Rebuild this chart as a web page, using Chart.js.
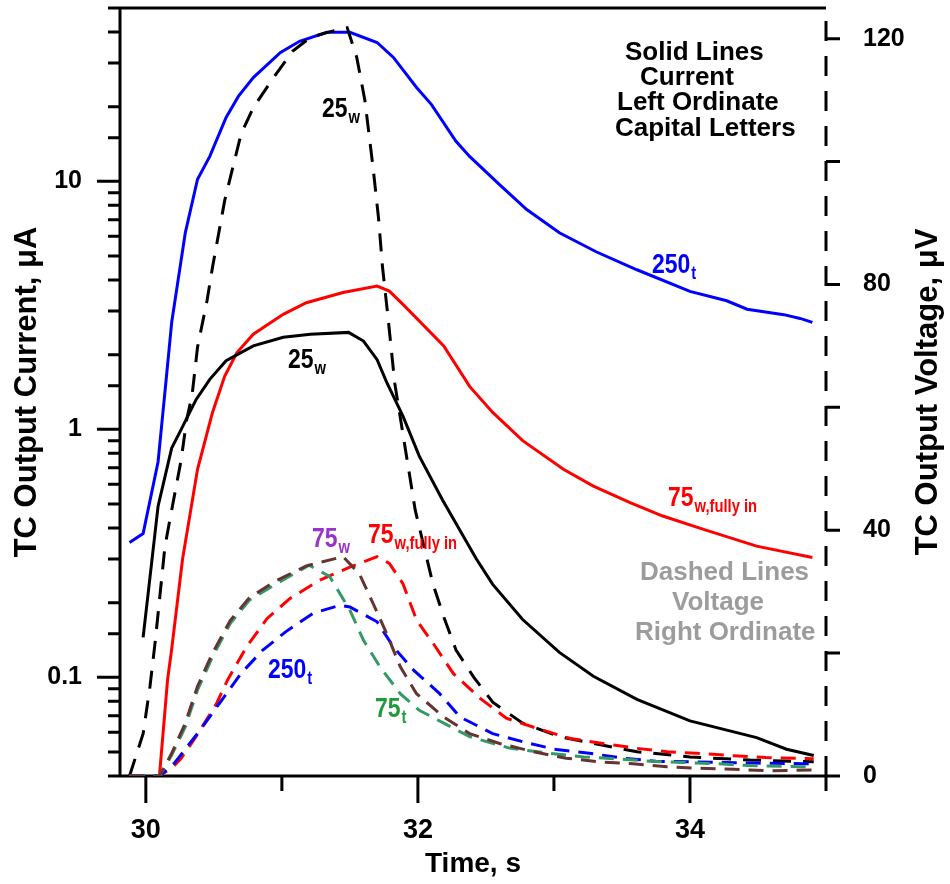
<!DOCTYPE html>
<html>
<head>
<meta charset="utf-8">
<title>TC output current and voltage</title>
<script src="https://cdn.jsdelivr.net/npm/chart.js@4.4.1/dist/chart.umd.min.js"></script>
<style>
  html, body { margin: 0; padding: 0; background: #fff; }
  canvas { display: block; }
</style>
</head>
<body>
<canvas id="tcChart" width="950" height="884"></canvas>
<script>
// ---- axis ticks / labels ----
const xMajor = [30, 32, 34];
const xMinor = [31, 33, 35];
const leftLabels = [0.1, 1, 10];
const rightLabels = [0, 40, 80, 120];
const rightMinor = [20, 60, 100];

// ---- solid lines: current (uA), left ordinate ----
const blueCurT = [29.88, 29.98, 30.09, 30.15, 30.19, 30.29, 30.38, 30.47, 30.59, 30.68, 30.79, 30.99, 31.13, 31.33, 31.50, 31.70, 31.82, 31.99, 32.10, 32.28, 32.38, 32.60, 32.80, 33.04, 33.31, 33.61, 34.00, 34.27, 34.42, 34.69, 34.81, 34.90];
const blueCurI = [0.35, 0.38, 0.74, 1.6, 2.7, 6.2, 10.2, 12.6, 18.1, 22.0, 26.2, 33.1, 36.7, 39.9, 39.9, 36.3, 31.6, 23.9, 20.4, 14.5, 12.6, 9.7, 7.7, 6.2, 5.2, 4.4, 3.6, 3.3, 3.05, 2.9, 2.8, 2.7];

const blackCurT = [29.98, 30.09, 30.19, 30.26, 30.37, 30.47, 30.59, 30.79, 31.01, 31.21, 31.49, 31.60, 31.70, 31.77, 31.89, 32.01, 32.18, 32.43, 32.55, 32.77, 33.04, 33.29, 33.61, 34.00, 34.49, 34.71, 34.91];
const blackCurI = [0.145, 0.49, 0.84, 1.0, 1.32, 1.59, 1.89, 2.17, 2.35, 2.42, 2.46, 2.27, 1.91, 1.55, 1.13, 0.78, 0.52, 0.30, 0.237, 0.171, 0.126, 0.101, 0.0815, 0.0667, 0.0571, 0.0513, 0.0484];

const redCurT = [30.10, 30.16, 30.19, 30.27, 30.38, 30.49, 30.58, 30.67, 30.79, 31.01, 31.18, 31.45, 31.70, 31.79, 31.89, 32.19, 32.38, 32.55, 32.77, 33.07, 33.29, 33.56, 33.80, 34.10, 34.49, 34.90];
const redCurI = [0.04, 0.098, 0.13, 0.30, 0.69, 1.17, 1.64, 2.04, 2.42, 2.91, 3.24, 3.56, 3.78, 3.61, 3.19, 2.17, 1.49, 1.17, 0.90, 0.69, 0.59, 0.506, 0.447, 0.395, 0.338, 0.304];

// ---- dashed lines: voltage (uV), right ordinate ----
const blackVoltT = [29.88, 29.98, 30.03, 30.07, 30.10, 30.14, 30.19, 30.26, 30.30, 30.34, 30.38, 30.45, 30.49, 30.58, 30.64, 30.70, 30.79, 30.94, 31.08, 31.21, 31.33, 31.48, 31.55, 31.61, 31.67, 31.71, 31.74, 31.78, 31.83, 31.98, 32.11, 32.19, 32.28, 32.41, 32.55, 32.77, 33.04, 33.29, 33.61, 34.00, 34.44, 34.91];
const blackVoltV = [0, 6.9, 14.5, 22.1, 28.6, 37.3, 43.3, 51.5, 58.0, 62.0, 69.8, 77.4, 82.8, 93.7, 99.1, 104.5, 108.8, 113.7, 118.0, 120.2, 121.0, 121.8, 117.0, 110.0, 99.1, 90.9, 82.8, 74.7, 63.9, 43.3, 31.3, 25.9, 20.5, 16.1, 12.0, 8.6, 6.4, 5.3, 3.95, 3.1, 2.6, 2.3];

const redVoltT = [29.88, 30.10, 30.20, 30.26, 30.36, 30.52, 30.60, 30.74, 30.89, 31.06, 31.28, 31.50, 31.70, 31.79, 31.89, 31.99, 32.13, 32.26, 32.46, 32.65, 32.87, 33.12, 33.36, 33.61, 33.83, 34.05, 34.32, 34.56, 34.91];
const redVoltV = [0, 0, 1.5, 2.9, 6.1, 11.8, 15.6, 21.0, 25.6, 28.9, 31.9, 34.0, 35.7, 34.6, 31.3, 25.4, 21.0, 16.7, 12.6, 9.4, 7.8, 6.1, 5.3, 4.5, 3.95, 3.7, 3.3, 3.0, 2.8];

const blueVoltT = [29.88, 30.10, 30.21, 30.40, 30.54, 30.70, 30.86, 31.03, 31.23, 31.43, 31.50, 31.70, 31.82, 31.97, 32.16, 32.31, 32.55, 32.80, 33.02, 33.26, 33.51, 33.75, 34.00, 34.25, 34.49, 34.83, 34.91];
const blueVoltV = [0, 0, 2.1, 7.5, 11.8, 16.7, 20.5, 23.5, 26.5, 27.8, 27.5, 25.1, 21.0, 17.2, 13.4, 9.6, 6.9, 5.4, 4.3, 3.7, 2.9, 2.4, 2.3, 2.2, 2.1, 2.0, 2.0];

const greenVoltT = [29.88, 30.10, 30.19, 30.29, 30.38, 30.49, 30.62, 30.76, 30.96, 31.20, 31.35, 31.50, 31.60, 31.72, 31.87, 32.01, 32.19, 32.38, 32.68, 32.97, 33.22, 33.46, 33.71, 33.95, 34.20, 34.44, 34.81, 34.91];
const greenVoltV = [0, 0, 3.4, 8.0, 14.0, 19.4, 24.8, 28.6, 31.3, 34.3, 32.5, 27.0, 22.1, 17.8, 13.4, 10.7, 8.6, 6.4, 4.5, 3.7, 3.1, 2.8, 2.4, 2.2, 2.0, 1.7, 1.5, 1.5];

const brownVoltT = [29.88, 30.10, 30.19, 30.29, 30.38, 30.49, 30.62, 30.76, 30.96, 31.18, 31.45, 31.57, 31.67, 31.77, 31.87, 31.99, 32.19, 32.38, 32.60, 32.85, 33.09, 33.34, 33.58, 33.83, 34.07, 34.32, 34.56, 34.91];
const brownVoltV = [0, 0, 3.7, 8.6, 14.6, 20.0, 25.3, 29.0, 31.8, 34.2, 35.7, 32.9, 28.1, 23.2, 17.8, 13.4, 9.6, 6.9, 5.3, 3.95, 2.9, 2.3, 2.0, 1.5, 1.25, 1.1, 0.86, 0.97];

const SANS = "'Liberation Sans', Arial, sans-serif";

function pts(ts, vs) {
  return ts.map((t, i) => ({ x: t, y: vs[i] }));
}

function near(v, list) {
  return list.some(l => Math.abs(v - l) < 1e-6 * Math.max(1, Math.abs(l)));
}

function solid(data, color) {
  return { data, borderColor: color, borderWidth: 3, pointRadius: 0, tension: 0, yAxisID: 'y', fill: false };
}

function dashed(data, color, dash) {
  return { data, borderColor: color, borderWidth: 3, borderDash: dash, pointRadius: 0, tension: 0, yAxisID: 'y2', fill: false };
}

// label, subscript, left x, baseline y, colour
const annotations = [
  ['25', 'w', 322, 117, '#000000'],
  ['25', 'w', 288, 368, '#000000'],
  ['250', 't', 652, 273, '#0000ff'],
  ['75', 'w,fully in', 668, 506, '#ff0000'],
  ['75', 'w', 312, 547, '#9933cc'],
  ['75', 'w,fully in', 368, 543, '#ff0000'],
  ['250', 't', 268, 678, '#0000ff'],
  ['75', 't', 375, 717, '#22993a'],
];

const blackNote = [['Solid Lines', 625, 60], ['Current', 640, 85], ['Left Ordinate', 617, 110], ['Capital Letters', 615, 136]];
const grayNote = [['Dashed Lines', 640, 580], ['Voltage', 672, 610], ['Right Ordinate', 635, 640]];

// narrow bold text: the original uses a condensed face, so squeeze Liberation Sans
function narrowText(ctx, s, x, y, size) {
  ctx.save();
  ctx.font = 'bold ' + size + 'px ' + SANS;
  ctx.translate(x, y);
  ctx.scale(0.82, 1);
  ctx.fillText(s, 0, 0);
  const w = ctx.measureText(s).width * 0.82;
  ctx.restore();
  return w;
}

const axesDecor = {
  id: 'axesDecor',
  // frame and ticks go under the curves
  beforeDatasetsDraw(chart) {
    const { ctx, chartArea: a, scales } = chart;
    ctx.save();
    ctx.strokeStyle = '#000';
    ctx.lineWidth = 3;
    ctx.lineCap = 'butt';

    ctx.beginPath();
    ctx.moveTo(a.left, a.top); ctx.lineTo(a.left, a.bottom + 1.5);
    ctx.moveTo(a.left - 2, a.bottom); ctx.lineTo(a.right + 14, a.bottom);
    ctx.moveTo(a.left - 1.5, a.top); ctx.lineTo(a.right, a.top);

    // left log ticks
    scales.y.ticks.forEach(t => {
      const py = scales.y.getPixelForValue(t.value);
      const major = near(t.value, leftLabels);
      ctx.moveTo(a.left - (major ? 23 : 12), py);
      ctx.lineTo(a.left, py);
    });
    // bottom ticks
    xMajor.concat(xMinor).forEach(v => {
      const px = scales.x.getPixelForValue(v);
      ctx.moveTo(px, a.bottom);
      ctx.lineTo(px, a.bottom + (near(v, xMajor) ? 27 : 15));
    });
    // right ticks
    rightLabels.concat(rightMinor).forEach(v => {
      const py = scales.y2.getPixelForValue(v);
      ctx.moveTo(a.right, py);
      ctx.lineTo(a.right + 14, py);
    });
    ctx.stroke();

    // right dashed axis
    ctx.setLineDash([20, 15]);
    ctx.beginPath();
    ctx.moveTo(a.right, a.bottom);
    ctx.lineTo(a.right, a.top);
    ctx.stroke();
    ctx.restore();
  },
  afterDraw(chart) {
    const { ctx, chartArea: a } = chart;
    ctx.save();

    // right title, reading upward like the left one
    ctx.fillStyle = '#000';
    ctx.font = 'bold 31px ' + SANS;
    ctx.textAlign = 'center';
    ctx.textBaseline = 'middle';
    ctx.translate(928, (a.top + a.bottom) / 2);
    ctx.rotate(-Math.PI / 2);
    ctx.fillText('TC Output Voltage, \u03bcV', 0, 0);
    ctx.setTransform(1, 0, 0, 1, 0, 0);

    // curve labels
    ctx.textAlign = 'left';
    ctx.textBaseline = 'alphabetic';
    annotations.forEach(([main, sub, x, y, color]) => {
      ctx.fillStyle = color;
      const w = narrowText(ctx, main, x, y, 28);
      narrowText(ctx, sub, x + w + 1, y + 6, 18);
    });

    // notes
    ctx.font = 'bold 26px ' + SANS;
    ctx.fillStyle = '#000';
    blackNote.forEach(([s, x, y]) => ctx.fillText(s, x, y));
    ctx.fillStyle = '#9c9c9c';
    grayNote.forEach(([s, x, y]) => ctx.fillText(s, x, y));
    ctx.restore();
  }
};

new Chart(document.getElementById('tcChart'), {
  type: 'line',
  data: {
    datasets: [
      dashed(pts(brownVoltT, brownVoltV), '#663333', [15, 9]),
      dashed(pts(greenVoltT, greenVoltV), '#339966', [15, 9]),
      dashed(pts(blueVoltT, blueVoltV), '#0000ff', [15, 9]),
      dashed(pts(redVoltT, redVoltV), '#ff0000', [15, 9]),
      dashed(pts(blackVoltT, blackVoltV), '#000000', [18, 12]),
      solid(pts(blackCurT, blackCurI), '#000000'),
      solid(pts(redCurT, redCurI), '#ff0000'),
      solid(pts(blueCurT, blueCurI), '#0000ff'),
    ]
  },
  options: {
    responsive: false,
    animation: false,
    devicePixelRatio: 1,
    layout: { padding: { top: 8, left: 0, right: 0, bottom: 0 } },
    plugins: { legend: { display: false }, tooltip: { enabled: false } },
    scales: {
      x: {
        type: 'linear',
        position: 'bottom',
        min: 29.81,
        max: 35,
        grid: { display: false, drawTicks: false },
        border: { display: false },
        ticks: {
          stepSize: 1,
          includeBounds: false,
          autoSkip: false,
          maxRotation: 0,
          padding: 38,
          color: '#000',
          font: { family: SANS, size: 27, weight: 'bold' },
          callback: (v) => near(v, xMajor) ? String(v) : ''
        },
        title: {
          display: true,
          text: 'Time, s',
          color: '#000',
          font: { family: SANS, size: 28, weight: 'bold' },
          padding: { top: 0, bottom: 3 }
        },
        afterFit: (s) => { s.height = 108; s.paddingLeft = 0; s.paddingRight = 0; }
      },
      y: {
        type: 'logarithmic',
        position: 'left',
        min: 0.04,
        max: 50,
        grid: { display: false, drawTicks: false },
        border: { display: false },
        ticks: {
          autoSkip: false,
          padding: 38,
          color: '#000',
          font: { family: SANS, size: 25, weight: 'bold' },
          callback: (v) => near(v, leftLabels) ? String(v) : ''
        },
        title: {
          display: true,
          text: 'TC Output Current, \u03bcA',
          color: '#000',
          font: { family: SANS, size: 31, weight: 'bold' },
          padding: { top: 9, bottom: 0 }
        },
        afterFit: (s) => { s.width = 120; s.paddingTop = 0; s.paddingBottom = 0; }
      },
      y2: {
        type: 'linear',
        position: 'right',
        min: 0,
        max: 125,
        grid: { display: false, drawTicks: false },
        border: { display: false },
        ticks: {
          stepSize: 20,
          includeBounds: false,
          autoSkip: false,
          padding: 37,
          color: '#000',
          font: { family: SANS, size: 25, weight: 'bold' },
          callback: (v) => near(v, rightLabels) ? String(v) : ''
        },
        afterFit: (s) => { s.width = 124; s.paddingTop = 0; s.paddingBottom = 0; }
      }
    }
  },
  plugins: [axesDecor]
});
</script>
</body>
</html>
